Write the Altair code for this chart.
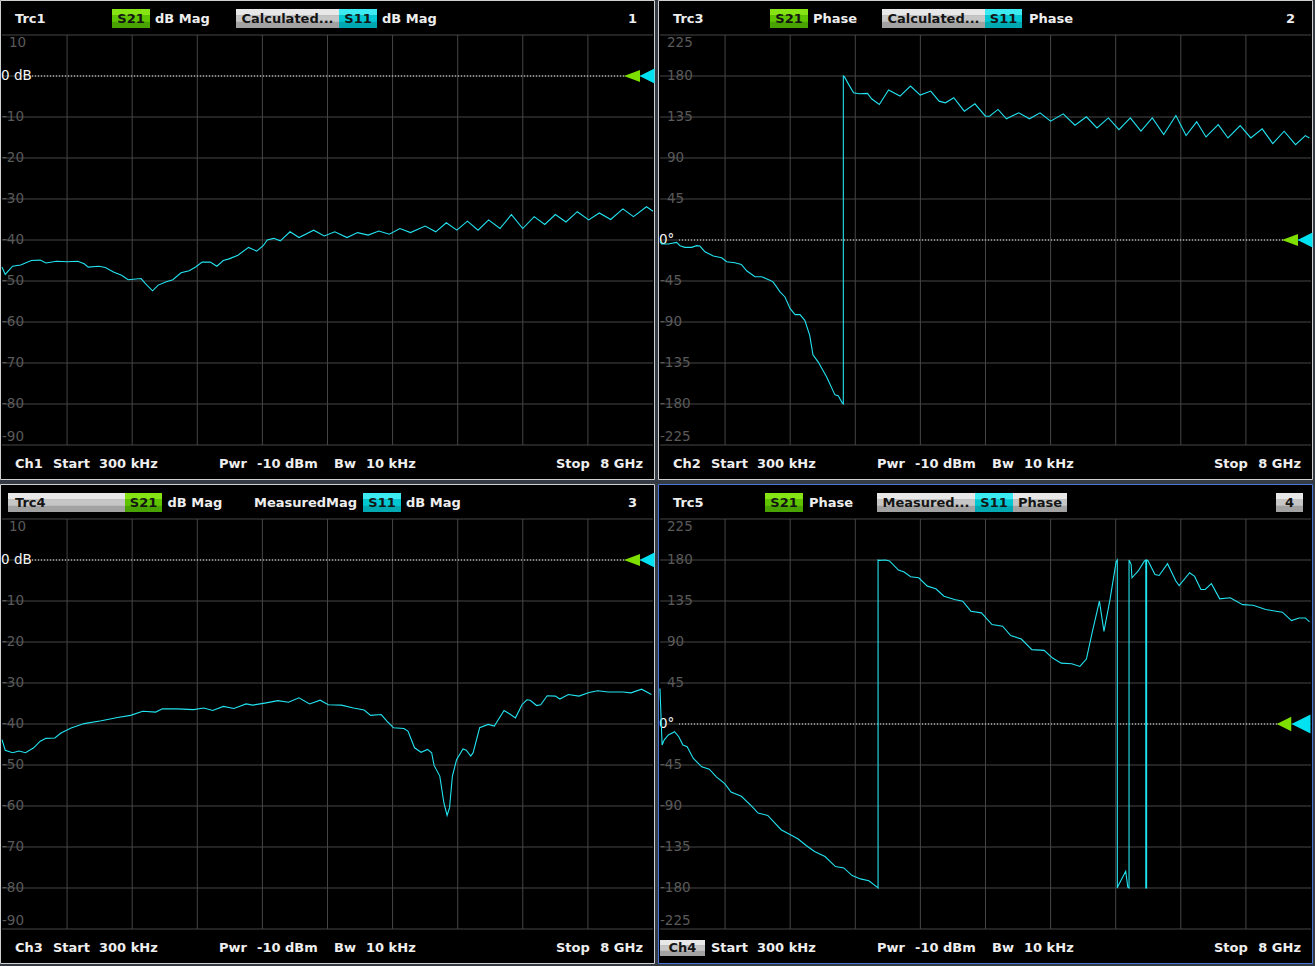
import altair as alt
import pandas as pd

# ---------------- data ----------------
F_START_GHZ = 0.0003
F_STOP_GHZ = 8.0
VGRID_GHZ = [0.8, 1.6, 2.4, 3.2, 4.0, 4.8, 5.6, 6.4, 7.2]

DB_TICKS = [10, 0, -10, -20, -30, -40, -50, -60, -70, -80, -90]
DB_LABELS = ["10", "", "-10", "-20", "-30", "-40", "-50", "-60", "-70", "-80", "-90"]
PH_TICKS = [225, 180, 135, 90, 45, 0, -45, -90, -135, -180, -225]
PH_LABELS = ["225", "180", "135", "90", "45", "", "-45", "-90", "-135", "-180", "-225"]

# Trc1: calculated S11 dB Mag
p1_f = [0.00, 0.04, 0.13, 0.23, 0.36, 0.47, 0.54, 0.67, 0.80, 0.93,
        1.01, 1.06, 1.19, 1.27, 1.37, 1.47, 1.55, 1.71, 1.76, 1.85,
        1.92, 2.02, 2.10, 2.20, 2.30, 2.38, 2.46, 2.56, 2.64, 2.72,
        2.79, 2.90, 3.03, 3.13, 3.21, 3.26, 3.34, 3.42, 3.54, 3.65,
        3.83, 3.96, 4.09, 4.24, 4.37, 4.50, 4.63, 4.76, 4.89, 5.02,
        5.20, 5.33, 5.46, 5.59, 5.72, 5.85, 5.98, 6.12, 6.26, 6.40,
        6.54, 6.67, 6.80, 6.93, 7.07, 7.21, 7.34, 7.48, 7.63, 7.76,
        7.92, 8.00]
p1_db = [-46.6, -48.4, -46.4, -46.1, -45.0, -44.9, -45.6, -45.2, -45.3, -45.2,
         -45.8, -46.6, -46.4, -46.7, -47.8, -48.6, -49.7, -49.4, -50.6, -52.4,
         -51.0, -50.2, -49.7, -48.0, -47.5, -46.6, -45.4, -45.4, -46.4, -45.0,
         -44.6, -43.7, -41.8, -42.7, -41.4, -40.0, -39.6, -40.2, -38.0, -39.4,
         -37.6, -39.0, -38.0, -39.4, -38.2, -38.8, -37.8, -38.6, -37.2, -38.2,
         -36.6, -38.0, -35.8, -37.6, -35.4, -37.6, -35.1, -37.2, -33.8, -37.2,
         -34.3, -36.2, -33.8, -35.6, -33.1, -35.1, -33.4, -35.0, -32.4, -34.3,
         -31.9, -33.0]

# Trc3: calculated S11 phase
p2_f = [0.00, 0.02, 0.10, 0.205, 0.246, 0.307, 0.39, 0.45, 0.49, 0.553,
        0.655, 0.758, 0.82, 0.92, 1.00, 1.065, 1.167, 1.25, 1.35, 1.39,
        1.475, 1.536, 1.60, 1.66, 1.72, 1.78, 1.84, 1.88, 1.945, 2.05,
        2.15, 2.19, 2.24, 2.253, 2.253, 2.266, 2.318, 2.379, 2.447, 2.55,
        2.60, 2.695, 2.809, 2.95, 3.078, 3.198, 3.327, 3.43, 3.508, 3.61,
        3.74, 3.87, 3.999, 4.05, 4.154, 4.257, 4.41, 4.54, 4.67, 4.80,
        4.955, 5.10, 5.24, 5.37, 5.51, 5.64, 5.78, 5.91, 6.05, 6.19,
        6.34, 6.465, 6.595, 6.71, 6.86, 6.98, 7.13, 7.26, 7.40, 7.53,
        7.67, 7.81, 7.93, 7.98]
p2_deg = [-1.5, -4.4, -4.4, -2.6, -6.2, -8.1, -8.1, -6.2, -6.6, -12.9,
          -17.6, -19.5, -23.9, -25.0, -26.8, -33.8, -40.4, -40.4, -44.1, -45.9,
          -56.9, -62.5, -75.3, -81.9, -81.9, -88.2, -104.7, -126.0, -134.0, -150.6,
          -170.0, -170.8, -178.9, -180.0, 180.0, 179.3, 170.8, 161.6, 160.5, 160.9,
          155.0, 148.8, 164.6, 158.0, 169.0, 159.0, 163.5, 152.4, 150.6, 156.1,
          141.4, 149.5, 135.9, 135.9, 143.3, 133.0, 139.6, 133.0, 139.6, 130.4,
          138.5, 126.0, 135.2, 123.0, 134.0, 121.2, 134.0, 119.4, 134.0, 115.7,
          136.6, 114.6, 129.7, 113.1, 126.7, 112.0, 125.6, 112.0, 122.0, 105.8,
          119.4, 104.7, 114.6, 112.0]

# Trc4: measured S11 dB Mag
p3_f = [0.00, 0.04, 0.13, 0.21, 0.29, 0.39, 0.47, 0.54, 0.65, 0.725,
        0.85, 1.01, 1.22, 1.42, 1.58, 1.73, 1.89, 1.97, 2.15, 2.355,
        2.48, 2.59, 2.72, 2.85, 3.00, 3.08, 3.23, 3.39, 3.52, 3.65,
        3.78, 3.91, 4.01, 4.17, 4.32, 4.45, 4.53, 4.66, 4.73, 4.81,
        4.94, 4.99, 5.07, 5.15, 5.23, 5.28, 5.31, 5.38, 5.43, 5.47,
        5.50, 5.535, 5.586, 5.665, 5.705, 5.76, 5.79, 5.87, 5.975, 6.05,
        6.10, 6.17, 6.235, 6.31, 6.39, 6.45, 6.49, 6.57, 6.62, 6.70,
        6.80, 6.855, 6.96, 7.09, 7.215, 7.32, 7.45, 7.63, 7.73, 7.86,
        7.98]
p3_db = [-43.8, -46.4, -47.0, -46.6, -47.0, -45.8, -44.2, -43.5, -43.4, -42.2,
         -41.0, -39.9, -39.2, -38.4, -37.9, -36.9, -37.1, -36.3, -36.3, -36.5,
         -36.1, -36.7, -35.7, -36.2, -35.1, -35.4, -34.9, -34.3, -34.7, -33.6,
         -35.1, -34.2, -35.3, -35.4, -36.1, -36.6, -37.9, -37.7, -39.3, -40.9,
         -41.1, -41.8, -45.8, -46.9, -46.2, -47.0, -50.1, -52.7, -59.2, -62.3,
         -60.4, -52.7, -48.7, -46.1, -46.4, -47.8, -47.0, -40.9, -40.1, -40.5,
         -38.9, -36.7, -37.5, -38.5, -35.3, -34.1, -34.2, -35.5, -35.3, -33.1,
         -33.2, -33.9, -32.8, -33.2, -32.3, -31.9, -32.2, -32.2, -32.4, -31.5,
         -32.8]

# Trc5: measured S11 phase
p4_f = [0.0, 0.026, 0.051, 0.103, 0.18, 0.231, 0.282, 0.334, 0.41, 0.513,
        0.606, 0.693, 0.796, 0.873, 1.0, 1.129, 1.206, 1.324, 1.489, 1.591,
        1.694, 1.797, 1.899, 2.028, 2.156, 2.259, 2.361, 2.464, 2.567, 2.669,
        2.68, 2.68, 2.695, 2.77, 2.82, 2.93, 3.0, 3.08, 3.18, 3.285,
        3.39, 3.49, 3.62, 3.72, 3.82, 3.95, 4.08, 4.21, 4.31, 4.44,
        4.57, 4.72, 4.825, 4.93, 5.06, 5.16, 5.24, 5.31, 5.40, 5.456,
        5.53, 5.605, 5.62, 5.62, 5.631, 5.723, 5.749, 5.764, 5.764, 5.79,
        5.80, 5.877, 5.954, 5.97, 5.97, 5.98, 5.98, 5.995, 6.083, 6.134,
        6.237, 6.339, 6.38, 6.509, 6.57, 6.647, 6.70, 6.776, 6.878, 7.007,
        7.16, 7.289, 7.443, 7.648, 7.761, 7.853, 7.93, 7.982]
p4_deg = [39.0, -23.0, -17.6, -12.0, -8.4, -14.0, -23.0, -25.0, -37.8, -47.0,
          -49.6, -58.0, -65.4, -74.6, -79.4, -90.4, -97.7, -100.3, -116.0, -121.0,
          -126.0, -133.4, -140.0, -145.5, -156.5, -158.0, -166.4, -170.0, -172.0, -179.0,
          -180.0, 180.0, 179.6, 180.0, 179.0, 169.0, 166.8, 161.6, 160.5, 151.3,
          148.4, 140.3, 136.6, 134.8, 123.8, 122.0, 109.1, 107.3, 97.0, 93.3,
          81.6, 80.8, 72.4, 66.8, 66.1, 63.2, 71.3, 99.9, 134.8, 101.7,
          136.6, 177.8, 180.0, -180.0, -177.4, -161.6, -179.0, -180.0, 180.0, 175.0,
          160.5, 168.0, 179.0, 180.0, -180.0, -180.0, 180.0, 179.5, 164.0, 163.0,
          176.0, 157.0, 152.0, 166.0, 162.0, 147.7, 147.7, 154.0, 137.4, 138.5,
          131.0, 130.4, 125.6, 122.7, 113.5, 116.4, 116.4, 112.0]

# ---------------- styling / layout ----------------
W, H = 655, 480
GRID_X = [2, 653]
GRID_Y = [445, 35]
HDR_Y = 18.5
FTR_Y = 464
FONT = "DejaVu Sans"

TRACE = "#22e3f0"
GRIDC = "#464646"
TICKC = "#5a5a5a"
WHITE = "#eeeeee"
DARK = "#151515"

# badge shades: (top, middle, bottom)
GREEN = ("#86e414", "#5fc400", "#48a200")
CYAN = ("#3eeaf2", "#00c8d2", "#00a8b2")
GREY = ("#e8e8e8", "#c6c6c6", "#a2a2a2")


def text_at(s, x, y, color=WHITE, align="left", size=13, weight="bold"):
    return alt.Chart(alt.Data(values=[{"k": 0}])).mark_text(
        text=s, align=align, baseline="middle", color=color, font=FONT,
        fontSize=size, fontWeight=weight).encode(x=alt.value(x), y=alt.value(y))


def rect(x0, x1, y0, y1, fill, stroke=None):
    kw = {"fill": fill}
    if stroke:
        kw.update(stroke=stroke, strokeWidth=1)
    else:
        kw.update(strokeWidth=0)
    return alt.Chart(alt.Data(values=[{"k": 0}])).mark_rect(**kw).encode(
        x=alt.value(x0), x2=alt.value(x1), y=alt.value(y0), y2=alt.value(y1))


def badge(x0, x1, y0, y1, shades):
    h = (y1 - y0) / 3.0
    return [rect(x0, x1, y0 + i * h, y0 + (i + 1) * h + (0.5 if i < 2 else 0), shades[i])
            for i in range(3)]


def panel(freq, vals, ticks, labels, zero_label, zero_x0, header, ch, ch_badge,
          tri, stroke):
    xsc = alt.Scale(domain=[F_START_GHZ, F_STOP_GHZ], range=GRID_X, nice=False, zero=False)
    ysc = alt.Scale(domain=[min(ticks), max(ticks)], range=GRID_Y, nice=False, zero=False)
    layers = [rect(0.5, W - 0.5, 0.5, H - 0.5, "#000000", stroke)]
    layers.append(alt.Chart(pd.DataFrame({"t": ticks})).mark_rule(color=GRIDC, strokeWidth=1).encode(
        y=alt.Y("t:Q", scale=ysc, axis=None), x=alt.value(GRID_X[0]), x2=alt.value(GRID_X[1])))
    layers.append(alt.Chart(pd.DataFrame({"g": VGRID_GHZ})).mark_rule(color=GRIDC, strokeWidth=1).encode(
        x=alt.X("g:Q", scale=xsc, axis=None), y=alt.value(GRID_Y[1]), y2=alt.value(GRID_Y[0])))
    tmax, tmin = max(ticks), min(ticks)
    for t, lab in zip(ticks, labels):
        if not lab:
            continue
        if t == tmax:
            bl, dy = "top", 1
        elif t == tmin:
            bl, dy = "bottom", -1
        else:
            bl, dy = "middle", 0
        xx = 2 if lab.startswith("-") else 9
        layers.append(alt.Chart(pd.DataFrame({"t": [t]})).mark_text(
            text=lab, align="left", baseline=bl, dy=dy, color=TICKC, font=FONT,
            fontSize=13.5).encode(x=alt.value(xx), y=alt.Y("t:Q", scale=ysc, axis=None)))
    # reference line at 0
    zdf = pd.DataFrame({"z": [0]})
    layers.append(alt.Chart(zdf).mark_rule(color="#f0f0f0", strokeDash=[1, 2], strokeWidth=1).encode(
        y=alt.Y("z:Q", scale=ysc, axis=None), x=alt.value(zero_x0), x2=alt.value(tri[0][0] - 6)))
    layers.append(alt.Chart(zdf).mark_text(
        text=zero_label, align="left", baseline="middle", color="#f6f6f6", font=FONT,
        fontSize=13.5).encode(x=alt.value(1), y=alt.Y("z:Q", scale=ysc, axis=None)))
    # trace
    df = pd.DataFrame({"f": freq, "v": vals, "i": list(range(len(freq)))})
    layers.append(alt.Chart(df).mark_line(color=TRACE, strokeWidth=1.1, clip=True).encode(
        x=alt.X("f:Q", scale=xsc, axis=None), y=alt.Y("v:Q", scale=ysc, axis=None),
        order=alt.Order("i:Q")))
    # reference markers
    for (cx, sz, shp, col) in tri:
        layers.append(alt.Chart(zdf).mark_point(
            shape=shp, size=sz, filled=True, color=col, opacity=1).encode(
            x=alt.value(cx), y=alt.Y("z:Q", scale=ysc, axis=None)))
    # header
    for item in header:
        if item[0] == "box":
            layers.extend(badge(item[1], item[2], 9, 28, item[3]))
    for item in header:
        if item[0] == "text":
            _, s, x, col, al = item
            layers.append(text_at(s, x, HDR_Y, col, al))
    # footer
    if ch_badge:
        layers.extend(badge(2, 47, 456, 472, GREY))
        layers.append(text_at(ch, 24.5, FTR_Y, DARK, "center"))
    else:
        layers.append(text_at(ch, 15, FTR_Y))
    for s, x, al in [("Start", 53, "left"), ("300\u00a0kHz", 99, "left"),
                     ("Pwr", 219, "left"), ("-10\u00a0dBm", 257, "left"),
                     ("Bw", 334, "left"), ("10\u00a0kHz", 366, "left"),
                     ("Stop", 556, "left"), ("8\u00a0GHz", 643, "right")]:
        layers.append(text_at(s, x, FTR_Y, WHITE, al))
    return alt.layer(*layers).properties(width=W, height=H)


TRI_STD = [(632, 256, "M1,-0.75L-1,0L1,0.75Z", "#7ee000"),
           (647, 225, "M1,-1L-1,0L1,1Z", "#00e2f2")]
TRI_ACT = [(626, 210, "M1,-1L-1,0L1,1Z", "#7ee000"),
           (643, 361, "M1,-1L-1,0L1,1Z", "#00e2f2")]

h1 = [("box", 112, 150, GREEN), ("box", 236, 339, GREY), ("box", 339, 377, CYAN),
      ("text", "Trc1", 15, WHITE, "left"), ("text", "S21", 131, DARK, "center"),
      ("text", "dB Mag", 155, WHITE, "left"), ("text", "Calculated...", 287.5, DARK, "center"),
      ("text", "S11", 358, DARK, "center"), ("text", "dB Mag", 382, WHITE, "left"),
      ("text", "1", 637, WHITE, "right")]
h2 = [("box", 112, 150, GREEN), ("box", 224, 327, GREY), ("box", 327, 364, CYAN),
      ("text", "Trc3", 15, WHITE, "left"), ("text", "S21", 131, DARK, "center"),
      ("text", "Phase", 155, WHITE, "left"), ("text", "Calculated...", 275.5, DARK, "center"),
      ("text", "S11", 345.5, DARK, "center"), ("text", "Phase", 371, WHITE, "left"),
      ("text", "2", 637, WHITE, "right")]
h3 = [("box", 8, 125, GREY), ("box", 125, 162, GREEN), ("box", 363, 401, CYAN),
      ("text", "Trc4", 15, DARK, "left"), ("text", "S21", 143.5, DARK, "center"),
      ("text", "dB Mag", 167.5, WHITE, "left"), ("text", "MeasuredMag", 254, WHITE, "left"),
      ("text", "S11", 382, DARK, "center"), ("text", "dB Mag", 406, WHITE, "left"),
      ("text", "3", 637, WHITE, "right")]
h4 = [("box", 107, 145, GREEN), ("box", 219, 409, GREY), ("box", 317, 355, CYAN),
      ("box", 618, 645, GREY),
      ("text", "Trc5", 15, WHITE, "left"), ("text", "S21", 126, DARK, "center"),
      ("text", "Phase", 151, WHITE, "left"), ("text", "Measured...", 268, DARK, "center"),
      ("text", "S11", 336, DARK, "center"), ("text", "Phase", 360, DARK, "left"),
      ("text", "4", 631.5, DARK, "center")]

p1 = panel(p1_f, p1_db, DB_TICKS, DB_LABELS, "0 dB", 32, h1, "Ch1", False, TRI_STD, "#cfcfcf")
p2 = panel(p2_f, p2_deg, PH_TICKS, PH_LABELS, "0°", 21, h2, "Ch2", False, TRI_STD, "#cfcfcf")
p3 = panel(p3_f, p3_db, DB_TICKS, DB_LABELS, "0 dB", 32, h3, "Ch3", False, TRI_STD, "#cfcfcf")
p4 = panel(p4_f, p4_deg, PH_TICKS, PH_LABELS, "0°", 21, h4, "Ch4", True, TRI_ACT, "#4a76d6")

chart = alt.vconcat(
    alt.hconcat(p1, p2, spacing=3),
    alt.hconcat(p3, p4, spacing=3),
    spacing=4,
).properties(
    background="#353b44",
    padding={"left": 0, "top": 0, "right": 2, "bottom": 2},
).configure_view(strokeWidth=0, stroke=None)

chart.save("out.html", embed_options={"renderer": "svg", "actions": False})
